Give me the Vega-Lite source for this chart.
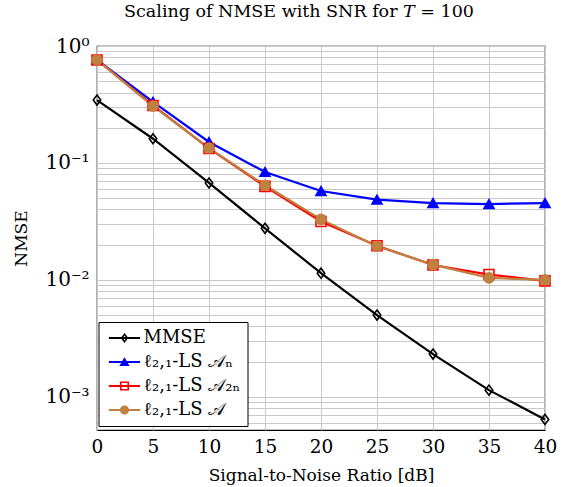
{
  "$schema": "https://vega.github.io/schema/vega-lite/v6.json",
  "width": 448,
  "height": 384,
  "autosize": {"type": "none"},
  "padding": {"left": 97, "top": 46, "right": 20, "bottom": 57},
  "config": {
    "font": "DejaVu Serif",
    "view": {"stroke": "black", "strokeWidth": 1.2},
    "axis": {"labelFont": "DejaVu Serif", "titleFont": "DejaVu Serif", "labelColor": "black", "titleColor": "black", "titleFontWeight": "normal", "gridColor": "#c8c8c8", "gridWidth": 1, "domain": false, "ticks": false}
  },
  "title": {"text": "Scaling of NMSE with SNR for 𝑇 = 100", "font": "DejaVu Serif", "fontSize": 17.5, "fontWeight": "normal", "color": "black", "offset": 16, "dx": -22},
  "data": {"values": [
    {"snr": 0, "series": "MMSE", "nmse": 0.345},
    {"snr": 5, "series": "MMSE", "nmse": 0.161},
    {"snr": 10, "series": "MMSE", "nmse": 0.0674},
    {"snr": 15, "series": "MMSE", "nmse": 0.0276},
    {"snr": 20, "series": "MMSE", "nmse": 0.0114},
    {"snr": 25, "series": "MMSE", "nmse": 0.0050},
    {"snr": 30, "series": "MMSE", "nmse": 0.00232},
    {"snr": 35, "series": "MMSE", "nmse": 0.00114},
    {"snr": 40, "series": "MMSE", "nmse": 0.00064},
    {"snr": 0, "series": "ℓ₂,₁-LS 𝒜ₙ", "nmse": 0.76},
    {"snr": 5, "series": "ℓ₂,₁-LS 𝒜ₙ", "nmse": 0.333},
    {"snr": 10, "series": "ℓ₂,₁-LS 𝒜ₙ", "nmse": 0.151},
    {"snr": 15, "series": "ℓ₂,₁-LS 𝒜ₙ", "nmse": 0.0837},
    {"snr": 20, "series": "ℓ₂,₁-LS 𝒜ₙ", "nmse": 0.0575},
    {"snr": 25, "series": "ℓ₂,₁-LS 𝒜ₙ", "nmse": 0.0486},
    {"snr": 30, "series": "ℓ₂,₁-LS 𝒜ₙ", "nmse": 0.0454},
    {"snr": 35, "series": "ℓ₂,₁-LS 𝒜ₙ", "nmse": 0.0445},
    {"snr": 40, "series": "ℓ₂,₁-LS 𝒜ₙ", "nmse": 0.0454},
    {"snr": 0, "series": "ℓ₂,₁-LS 𝒜₂ₙ", "nmse": 0.76},
    {"snr": 5, "series": "ℓ₂,₁-LS 𝒜₂ₙ", "nmse": 0.31},
    {"snr": 10, "series": "ℓ₂,₁-LS 𝒜₂ₙ", "nmse": 0.133},
    {"snr": 15, "series": "ℓ₂,₁-LS 𝒜₂ₙ", "nmse": 0.063},
    {"snr": 20, "series": "ℓ₂,₁-LS 𝒜₂ₙ", "nmse": 0.0316},
    {"snr": 25, "series": "ℓ₂,₁-LS 𝒜₂ₙ", "nmse": 0.0196},
    {"snr": 30, "series": "ℓ₂,₁-LS 𝒜₂ₙ", "nmse": 0.0134},
    {"snr": 35, "series": "ℓ₂,₁-LS 𝒜₂ₙ", "nmse": 0.0111},
    {"snr": 40, "series": "ℓ₂,₁-LS 𝒜₂ₙ", "nmse": 0.0098},
    {"snr": 0, "series": "ℓ₂,₁-LS 𝒜", "nmse": 0.76},
    {"snr": 5, "series": "ℓ₂,₁-LS 𝒜", "nmse": 0.306},
    {"snr": 10, "series": "ℓ₂,₁-LS 𝒜", "nmse": 0.134},
    {"snr": 15, "series": "ℓ₂,₁-LS 𝒜", "nmse": 0.0644},
    {"snr": 20, "series": "ℓ₂,₁-LS 𝒜", "nmse": 0.0329},
    {"snr": 25, "series": "ℓ₂,₁-LS 𝒜", "nmse": 0.0194},
    {"snr": 30, "series": "ℓ₂,₁-LS 𝒜", "nmse": 0.0135},
    {"snr": 35, "series": "ℓ₂,₁-LS 𝒜", "nmse": 0.0104},
    {"snr": 40, "series": "ℓ₂,₁-LS 𝒜", "nmse": 0.0100}
  ]},
  "encoding": {
    "x": {"field": "snr", "type": "quantitative", "scale": {"domain": [0, 40], "nice": false, "zero": false},
      "axis": {"values": [0, 5, 10, 15, 20, 25, 30, 35, 40], "title": "Signal-to-Noise Ratio [dB]", "labelFontSize": 18.5, "titleFontSize": 17, "labelPadding": 7, "titlePadding": 12, "labelFlush": false}},
    "y": {"field": "nmse", "type": "quantitative", "scale": {"type": "log", "domain": [0.00052, 1], "nice": false},
      "axis": {"values": [0.0006, 0.0007, 0.0008, 0.0009, 0.001, 0.002, 0.003, 0.004, 0.005, 0.006, 0.007, 0.008, 0.009, 0.01, 0.02, 0.03, 0.04, 0.05, 0.06, 0.07, 0.08, 0.09, 0.1, 0.2, 0.3, 0.4, 0.5, 0.6, 0.7, 0.8, 0.9, 1],
        "labelExpr": "datum.value == 1 ? '10⁰' : abs(datum.value - 0.1) < 1e-9 ? '10⁻¹' : abs(datum.value - 0.01) < 1e-10 ? '10⁻²' : abs(datum.value - 0.001) < 1e-11 ? '10⁻³' : ''",
        "title": "NMSE", "labelFontSize": 20, "titleFontSize": 17, "labelPadding": 8, "titlePadding": 14, "labelFlush": false}}
  },
  "layer": [
    {
      "mark": {"type": "line", "strokeWidth": 2.2},
      "encoding": {
        "color": {"field": "series", "type": "nominal",
          "sort": ["MMSE", "ℓ₂,₁-LS 𝒜ₙ", "ℓ₂,₁-LS 𝒜₂ₙ", "ℓ₂,₁-LS 𝒜"],
          "scale": {"range": ["black", "#0000ff", "#ff0000", "#bf8040"]},
          "legend": {"orient": "none", "legendX": 1.5, "legendY": 276, "title": null, "symbolType": "M-3.9,0H3.9", "symbolSize": 64, "symbolStrokeWidth": 2.2, "labelColor": "transparent", "labelFontSize": 18, "labelFont": "DejaVu Serif", "labelOffset": 10, "symbolOffset": 10, "rowPadding": 6, "padding": 7, "strokeColor": "black", "fillColor": "white", "cornerRadius": 0}
        }
      }
    },
    {
      "mark": {"type": "point", "filled": true, "size": 100, "strokeWidth": 1.6, "opacity": 1},
      "encoding": {
        "shape": {"field": "series", "type": "nominal",
          "scale": {"domain": ["MMSE", "ℓ₂,₁-LS 𝒜ₙ", "ℓ₂,₁-LS 𝒜₂ₙ", "ℓ₂,₁-LS 𝒜"], "range": ["M0,-1L0.75,0L0,1L-0.75,0Z", "triangle-up", "square", "circle"]},
          "legend": {"orient": "none", "legendX": 1.5, "legendY": 276, "title": null, "symbolSize": 56, "symbolStrokeWidth": 1.6, "labelColor": "black", "labelFontSize": 18, "labelFont": "DejaVu Serif", "labelOffset": 10, "symbolOffset": 10, "rowPadding": 6, "padding": 7}
        },
        "fill": {"field": "series", "type": "nominal",
          "scale": {"domain": ["MMSE", "ℓ₂,₁-LS 𝒜ₙ", "ℓ₂,₁-LS 𝒜₂ₙ", "ℓ₂,₁-LS 𝒜"], "range": ["transparent", "#0000ff", "transparent", "#bf8040"]},
          "legend": {"orient": "none", "legendX": 1.5, "legendY": 276, "title": null, "symbolSize": 56, "symbolStrokeWidth": 1.6, "labelColor": "black", "labelFontSize": 18, "labelFont": "DejaVu Serif", "labelOffset": 10, "symbolOffset": 10, "rowPadding": 6, "padding": 7}
        },
        "stroke": {"field": "series", "type": "nominal",
          "scale": {"domain": ["MMSE", "ℓ₂,₁-LS 𝒜ₙ", "ℓ₂,₁-LS 𝒜₂ₙ", "ℓ₂,₁-LS 𝒜"], "range": ["black", "#0000ff", "#ff0000", "#bf8040"]},
          "legend": {"orient": "none", "legendX": 1.5, "legendY": 276, "title": null, "symbolSize": 56, "symbolStrokeWidth": 1.6, "labelColor": "black", "labelFontSize": 18, "labelFont": "DejaVu Serif", "labelOffset": 10, "symbolOffset": 10, "rowPadding": 6, "padding": 7}
        }
      }
    }
  ]
}
